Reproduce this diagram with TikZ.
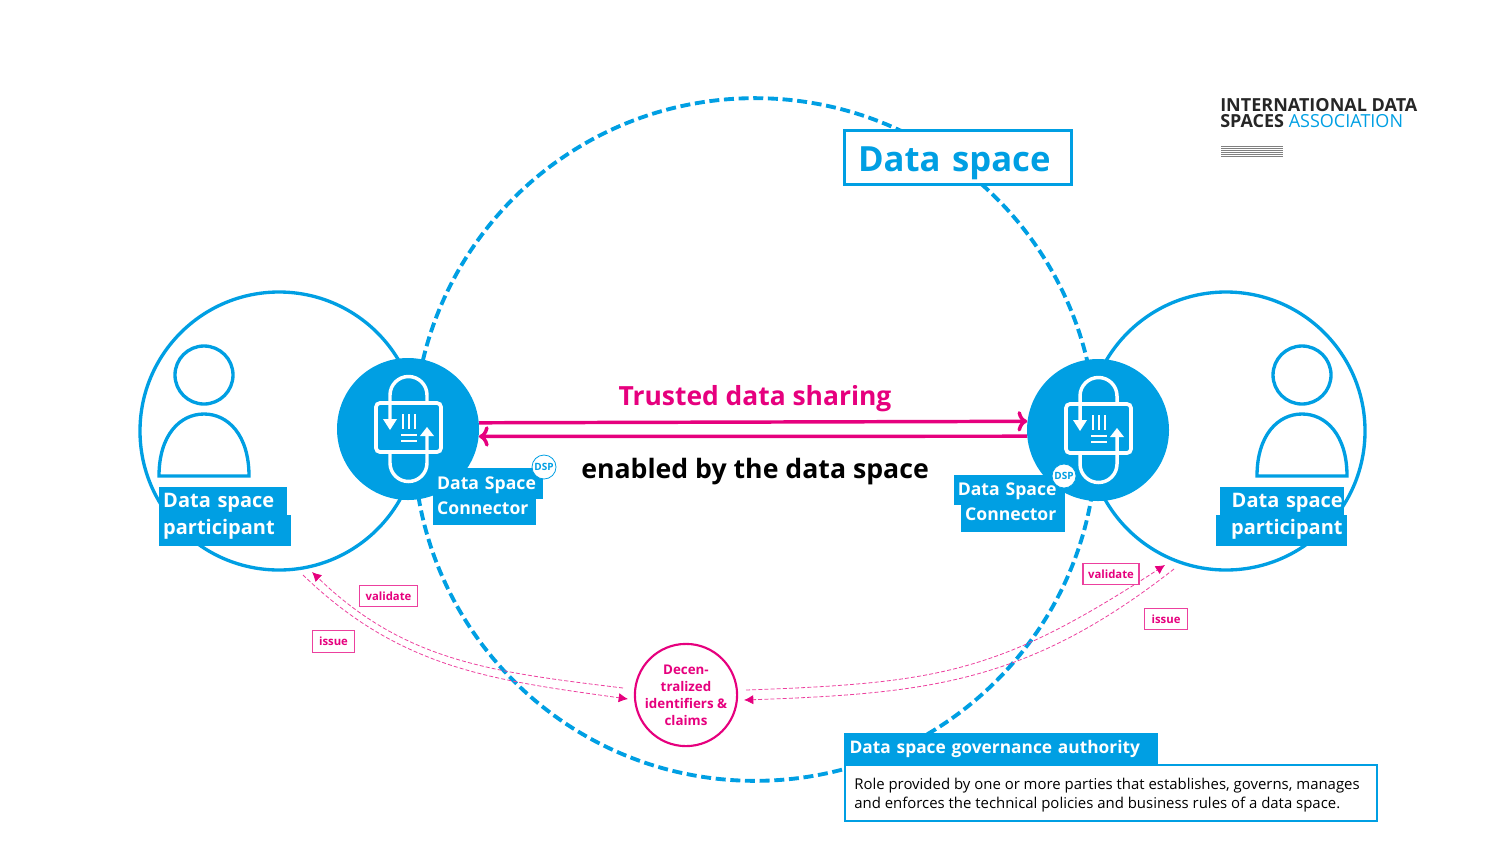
\documentclass[tikz,border=0pt]{standalone}
\usepackage{fontspec}
\setmainfont{Open Sans}
\usetikzlibrary{positioning,arrows.meta}
\definecolor{dsblue}{HTML}{009FE3}
\definecolor{dspink}{HTML}{E6007E}
\tikzset{
	ring/.style={circle,draw=dsblue,line width=2.5pt,minimum size=208.5pt,inner sep=0pt},
	hub/.style={circle,fill=dsblue,minimum size=106.5pt,inner sep=0pt},
	tag/.style={fill=dsblue,draw=dsblue,line width=.3pt,text=white,font=\bfseries\fontsize{15}{17}\selectfont,inner ysep=0pt,inner xsep=3pt,align=left,text height=15pt,text depth=6pt},
	hubtag/.style={tag,font=\bfseries\fontsize{13.2}{16}\selectfont},
	dspmark/.style={circle,draw=dsblue,fill=white,text=dsblue,line width=.6pt,minimum size=18pt,inner sep=0pt,font=\bfseries\fontsize{7.5}{8}\selectfont},
	flowlabel/.style={draw=dspink!75,fill=white,text=dspink,line width=.8pt,inner sep=0pt,minimum height=16pt,font=\bfseries\fontsize{8.5}{10}\selectfont},
	flow/.style={dspink!75,line width=.6pt,dash pattern=on 3pt off 1.6pt,-{Latex[length=7pt,width=7pt,color=dspink]}},
	share/.style={dspink,line width=2.6pt,->},
	person/.pic={
		\draw[dsblue,line width=2.5pt] (0,0) circle (29);
		\draw[dsblue,line width=2.5pt] (-45,-101) .. controls (-45,-60) and (-24,-39) .. (0,-39)
			.. controls (24,-39) and (45,-60) .. (45,-101) -- cycle;
	},
	hubicon/.pic={
		\draw[white,line width=2.8pt,rounded corners=3pt] (-32,26) rectangle (33,-23);
		\draw[white,line width=2.6pt] (-18,10) -- (-18,34) arc (180:0:18.5) -- (19,26);
		\draw[white,line width=2.6pt] (-18,-23) -- (-18,-34) arc (180:360:18.5) -- (19,-6);
		\fill[white] (-25,10) -- (-11,10) -- (-18,-1) -- cycle;
		\fill[white] (12,-7) -- (26,-7) -- (19,2) -- cycle;
		\foreach \x in {-5,1,7}
			\draw[white,line width=1.6pt] (\x,15) -- (\x,0);
		\foreach \y in {-6,-12}
			\draw[white,line width=1.6pt] (-7,\y) -- (9,\y);
	},
}

\begin{document}
\begin{tikzpicture}[x=.75pt,y=.75pt]
	\useasboundingbox (0,0) rectangle (1512,-851);

	\node[circle,draw=dsblue,line width=2.9pt,dash pattern=on 7.5pt off 3.5pt,minimum size=512pt,inner sep=0pt] (space) at (755,-439.5) {};
	\node[ring] (lpart) at (279,-431) {};
	\node[ring] (rpart) at (1226,-431) {};
	\node[hub] (lhub) at (408,-429) {};
	\node[hub] (rhub) at (1098,-430) {};
	\pic at (408,-429) {hubicon};
	\pic at (1098,-430) {hubicon};
	\pic at (204,-375) {person};
	\pic at (1302,-375) {person};

	\node[draw=dsblue,fill=white,text=dsblue,line width=2.2pt,text width=150pt,inner xsep=10pt,inner ysep=0pt,text height=31pt,text depth=10pt,font=\bfseries\fontsize{26}{30}\selectfont] (title) at (958,-157.5) {Data space};

	\node[tag,text width=89pt,anchor=north west] (lparta) at (159,-487) {Data space};
	\node[tag,text width=92pt,text height=14pt,text depth=8pt,anchor=north west] (lpartb) at (lparta.south west) {participant};
	\node[tag,text width=92.25pt,inner xsep=0pt,align=right,anchor=north east] (rparta) at (1343,-487) {Data space};
	\node[tag,text width=92pt,text height=14pt,text depth=8pt,align=right,below=0pt of rparta] (rpartb) {participant};

	\node[hubtag,text width=76pt,text height=16pt,text depth=6.5pt,anchor=north west] (lhuba) at (433,-468) {Data Space};
	\node[hubtag,text width=70.5pt,text height=12pt,text depth=7.5pt,anchor=north west] (lhubb) at (lhuba.south west) {Connector};
	\node[hubtag,text width=76.5pt,text height=15pt,text depth=7pt,anchor=north east] (rhuba) at (1064,-475) {Data Space};
	\node[hubtag,text width=71pt,text height=12pt,text depth=7.5pt,anchor=north east] (rhubb) at (rhuba.south east) {Connector};
	\node[dspmark] (ldsp) at (544,-467) {DSP};
	\node[dspmark] (rdsp) at (1064,-476) {DSP};

	\draw[share] (lhub.5.6) -- (rhub.173.5);
	\draw[share] (rhub.185.6) -- (lhub.-6.5);
	\node[text=dspink,font=\bfseries\fontsize{19.8}{24}\selectfont] (shared) at (755,-399) {Trusted data sharing};
	\node[font=\bfseries\fontsize{20}{24}\selectfont] (enabled) at (755,-472) {enabled by the data space};

	\node[circle,draw=dspink,fill=white,text=dspink,line width=1.6pt,minimum size=76pt,inner sep=0pt,align=center,font=\bfseries\fontsize{10}{12.8}\selectfont] (did) at (686,-695) {Decen-\\tralized\\identifiers \&\\claims};

	\coordinate (lval) at (312,-572);
	\coordinate (liss) at (303,-575);
	\coordinate (rval) at (1165,-565);
	\coordinate (riss) at (1174,-569);
	\coordinate (dlout) at (623,-688);
	\coordinate (dlin) at (628,-699);
	\coordinate (drout) at (746,-690);
	\coordinate (drin) at (744,-700);
	\draw[flow] (dlout) to[out=173,in=-44] (lval);
	\draw[flow] (liss) to[out=-44,in=172] (dlin);
	\draw[flow] (drout) to[out=2,in=-147,looseness=1.15] (rval);
	\draw[flow] (riss) to[out=-142,in=2,looseness=1.05] (drin);

	\node[flowlabel,minimum width=43pt] (lvalbox) at (388.5,-596) {validate};
	\node[flowlabel,minimum width=32pt] (lissbox) at (333.5,-641.5) {issue};
	\node[flowlabel,minimum width=42pt] (rvalbox) at (1111,-574) {validate};
	\node[flowlabel,minimum width=32pt] (rissbox) at (1166,-619) {issue};

	\node[draw=dsblue,fill=white,line width=2pt,minimum width=399pt,minimum height=42pt,inner sep=0pt] (rolebox) at (1111,-793) {};
	\node[anchor=west,align=left,inner sep=0pt,font=\fontsize{11.2}{14.2}\selectfont] (role) at (854,-795.5) {Role provided by one or more parties that establishes, governs, manages\\and enforces the technical policies and business rules of a data space.};
	\node[fill=dsblue,text=white,anchor=south west,minimum height=24pt,text width=227.5pt,inner xsep=4pt,inner ysep=0pt,align=left,font=\bfseries\fontsize{13}{16}\selectfont] (gov) at (844,-765) {Data space governance authority};

	\node[anchor=west,inner sep=0pt,font=\bfseries\fontsize{13.5}{12}\selectfont,text=black!85] (logoa) at (1220,-105) {INTERNATIONAL DATA};
	\node[anchor=west,inner sep=0pt,font=\fontsize{13.5}{12}\selectfont,text=dsblue] (logob) at (1220,-121) {{\bfseries\color{black!85}SPACES} ASSOCIATION};
	\foreach \y in {146,148,150,152,154,156}
		\draw[black!50,line width=.6pt] (1221,-\y) -- (1283,-\y);
\end{tikzpicture}
\end{document}
